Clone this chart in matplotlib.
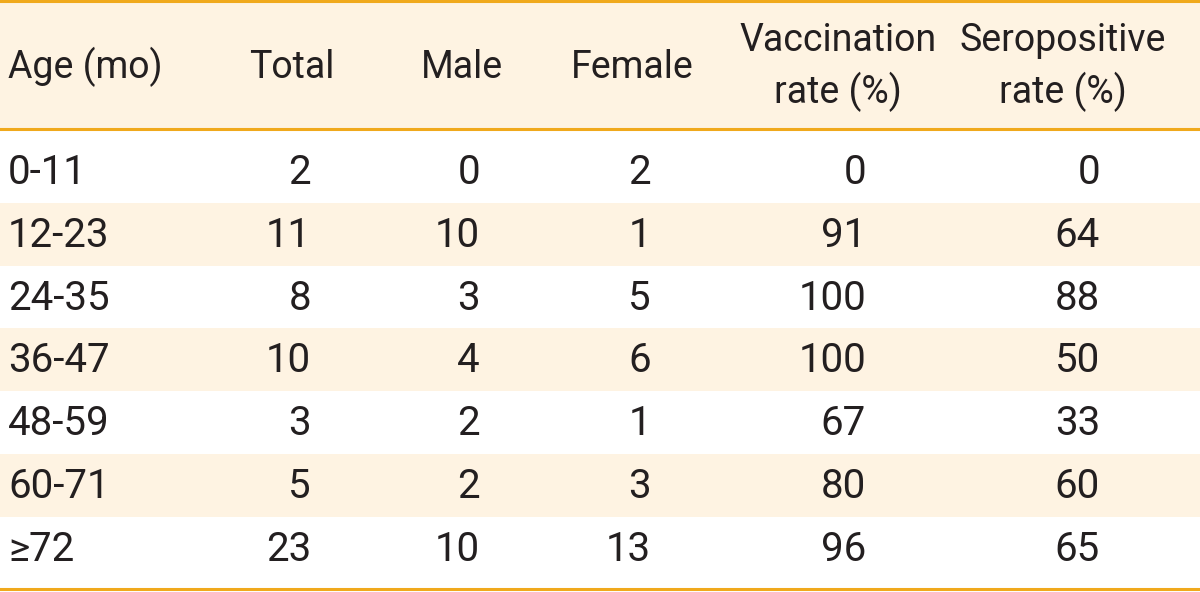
import matplotlib.pyplot as plt
from matplotlib import font_manager

# Välj ett smalt typsnitt om det finns
names = {f.name for f in font_manager.fontManager.ttflist}
font = "Liberation Sans Narrow" if "Liberation Sans Narrow" in names else "Roboto"

ages = ["0-11", "12-23", "24-35", "36-47", "48-59", "60-71", "≥72"]
total = [2, 11, 8, 10, 3, 5, 23]
male = [0, 10, 3, 4, 2, 2, 10]
female = [2, 1, 5, 6, 1, 3, 13]
vacc_rate = [0, 91, 100, 100, 67, 80, 96]
sero_rate = [0, 64, 88, 50, 33, 60, 65]

headers = ["Age (mo)", "Total", "Male", "Female", "Vaccination\nrate (%)", "Seropositive\nrate (%)"]

cream = "#fef3e2"
orange = "#f0a91c"
textc = "#231f20"

fig = plt.figure(figsize=(12, 5.92), dpi=100)
ax = fig.add_axes([0, 0, 1, 1])
ax.set_xlim(0, 1200)
ax.set_ylim(592, 0)
ax.axis("off")

head_top, head_bot, bottom = 1, 129, 589
first = 140
row_h = 62.8

# Bakgrund för rubrik och varannan rad
ax.axhspan(head_top, head_bot, color=cream, lw=0)
for i in range(len(ages)):
    if i % 2 == 1:
        y0 = first + i * row_h
        ax.axhspan(y0, y0 + row_h, color=cream, lw=0)

for y in [head_top, head_bot, bottom]:
    ax.axhline(y, color=orange, lw=2.2)

# Rubriker
hx = [8, 292, 462, 632, 838, 1063]
ha = ["left", "center", "center", "center", "center", "center"]
for x, h, a in zip(hx, headers, ha):
    ax.text(x, 67, h, ha=a, va="center", fontsize=27, family=font, color=textc,
            linespacing=1.42)

# Datarader
cols = [total, male, female, vacc_rate, sero_rate]
rx = [311, 480, 651, 866, 1100]
for i, age in enumerate(ages):
    yc = first + (i + 0.5) * row_h + 1
    ax.text(8, yc, age, ha="left", va="center", fontsize=29, family=font, color=textc)
    for x, col in zip(rx, cols):
        ax.text(x, yc, str(col[i]), ha="right", va="center", fontsize=29,
                family=font, color=textc)

fig.savefig("out.png", dpi=100)
